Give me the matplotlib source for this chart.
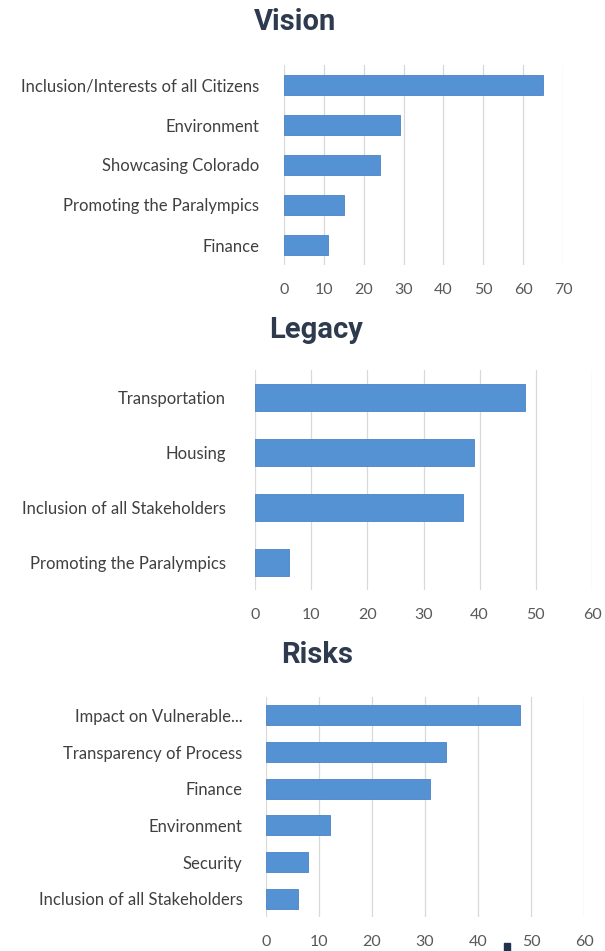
import matplotlib
matplotlib.use('Agg')
import matplotlib.pyplot as plt
from matplotlib.patches import Rectangle

# ---------------- dados ----------------
vision_cats = ['Inclusion/Interests of all Citizens', 'Environment', 'Showcasing Colorado',
               'Promoting the Paralympics', 'Finance']
vision_vals = [65, 29, 24, 15, 11]
vision_ticks = [0, 10, 20, 30, 40, 50, 60, 70]

legacy_cats = ['Transportation', 'Housing', 'Inclusion of all Stakeholders',
               'Promoting the Paralympics']
legacy_vals = [48, 39, 37, 6]
legacy_ticks = [0, 10, 20, 30, 40, 50, 60]

risks_cats = ['Impact on Vulnerable...', 'Transparency of Process', 'Finance',
              'Environment', 'Security', 'Inclusion of all Stakeholders']
risks_vals = [48, 34, 31, 12, 8, 6]
risks_ticks = [0, 10, 20, 30, 40, 50, 60]

# ---------------- estilo ----------------
bar_color = '#5592d4'
edge_color = '#4a83c4'
grid_color = '#d9d9d9'
label_color = '#404040'
tick_color = '#595959'
title_color = '#2e3b4e'

plt.rcParams['font.family'] = ['Lato', 'DejaVu Sans']

fig = plt.figure(figsize=(6.05, 9.51), dpi=100)
W, H = 605, 951


def painel(rect_px, cats, vals, ticks, bar_h, ypad, title, title_xy):
    left, top, right, bottom = rect_px
    ax = fig.add_axes([left / W, 1 - bottom / H, (right - left) / W, (bottom - top) / H])
    y = list(range(len(cats)))
    ax.barh(y, vals, height=bar_h, color=bar_color, edgecolor=edge_color, linewidth=0.6, zorder=3)
    ax.set_ylim(len(cats) - 0.5, -0.5)
    ax.set_xlim(ticks[0], ticks[-1])
    ax.set_xticks(ticks)
    ax.set_yticks(y)
    ax.set_yticklabels(cats, fontsize=12, color=label_color)
    ax.tick_params(axis='y', length=0, pad=ypad)
    ax.tick_params(axis='x', length=0, pad=13, labelsize=11.5, labelcolor=tick_color)
    ax.grid(axis='x', color=grid_color, linewidth=0.9, zorder=0)
    for s in ax.spines.values():
        s.set_visible(False)
    fig.text(title_xy[0] / W, 1 - title_xy[1] / H, title, ha='center', va='center',
             fontsize=21, fontweight='bold', color=title_color,
             family=['Liberation Sans Narrow', 'Roboto', 'DejaVu Sans'])
    return ax


painel((284, 65, 563, 265), vision_cats, vision_vals, vision_ticks, 0.5, 18, 'Vision', (295, 22))
painel((255, 370, 592, 590), legacy_cats, legacy_vals, legacy_ticks, 0.5, 21, 'Legacy', (316, 330))
painel((266, 697, 584, 917), risks_cats, risks_vals, risks_ticks, 0.55, 17, 'Risks', (317, 655))

# pequena marca escura perto do eixo de baixo
fig.patches.append(Rectangle((504 / W, 1 - 951 / H), 6 / W, 8 / H, transform=fig.transFigure,
                             color='#1f3350', zorder=5))

fig.savefig('out.png', dpi=100, facecolor='white')
